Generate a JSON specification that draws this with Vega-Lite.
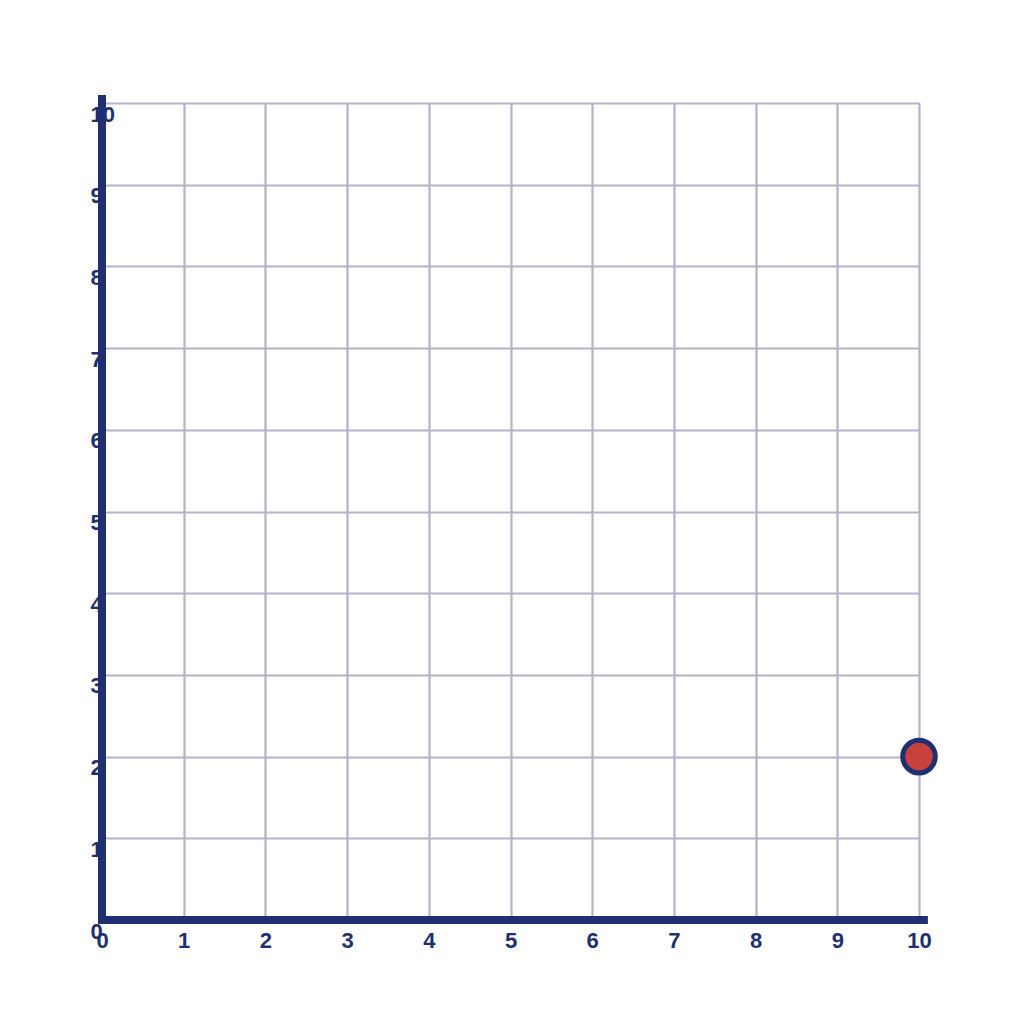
{
  "$schema": "https://vega.github.io/schema/vega-lite/v6.json",
  "width": 817,
  "height": 817,
  "autosize": {"type": "none"},
  "padding": {"left": 102, "top": 103, "right": 105, "bottom": 104},
  "background": "white",
  "config": {"view": {"stroke": null}},
  "layer": [
    {
      "data": {"values": [
        {"x": 0, "y": 0, "x2": 10.06, "y2": 0},
        {"x": 0, "y": 0, "x2": 0, "y2": 10.05}
      ]},
      "mark": {"type": "rule", "color": "#1f3070", "strokeWidth": 8, "strokeCap": "square", "clip": false},
      "encoding": {
        "x": {"field": "x", "type": "quantitative", "scale": {"domain": [0, 10], "nice": false},
          "axis": {"values": [0,1,2,3,4,5,6,7,8,9,10], "format": "d", "title": null, "domain": false, "ticks": false, "grid": true, "gridColor": "#b3b2c9", "gridWidth": 2.2, "gridOpacity": 1,
            "labelFont": "Liberation Sans", "labelFontWeight": "bold", "labelFontSize": 22, "labelColor": "#1f3070", "labelBaseline": "top", "labelPadding": 10, "labelOverlap": false, "labelBound": false, "labelFlush": false, "zindex": 0}},
        "y": {"field": "y", "type": "quantitative", "scale": {"domain": [0, 10], "nice": false},
          "axis": {"values": [0,1,2,3,4,5,6,7,8,9,10], "format": "d", "title": null, "domain": false, "ticks": false, "grid": true, "gridColor": "#b3b2c9", "gridWidth": 2.2, "gridOpacity": 1,
            "labelFont": "Liberation Sans", "labelFontWeight": "bold", "labelFontSize": 22, "labelColor": "#1f3070", "labelAlign": "left", "labelBaseline": "top", "labelPadding": 12, "labelOffset": 1, "labelOverlap": false, "labelBound": false, "labelFlush": false, "zindex": 0}},
        "x2": {"field": "x2"},
        "y2": {"field": "y2"}
      }
    },
    {
      "data": {"values": [{"x": 10, "y": 2}]},
      "mark": {"type": "point", "filled": true, "fill": "#c9413d", "stroke": "#1f3070", "strokeWidth": 5, "size": 1060, "opacity": 1, "clip": false},
      "encoding": {
        "x": {"field": "x", "type": "quantitative"},
        "y": {"field": "y", "type": "quantitative"}
      }
    }
  ]
}
